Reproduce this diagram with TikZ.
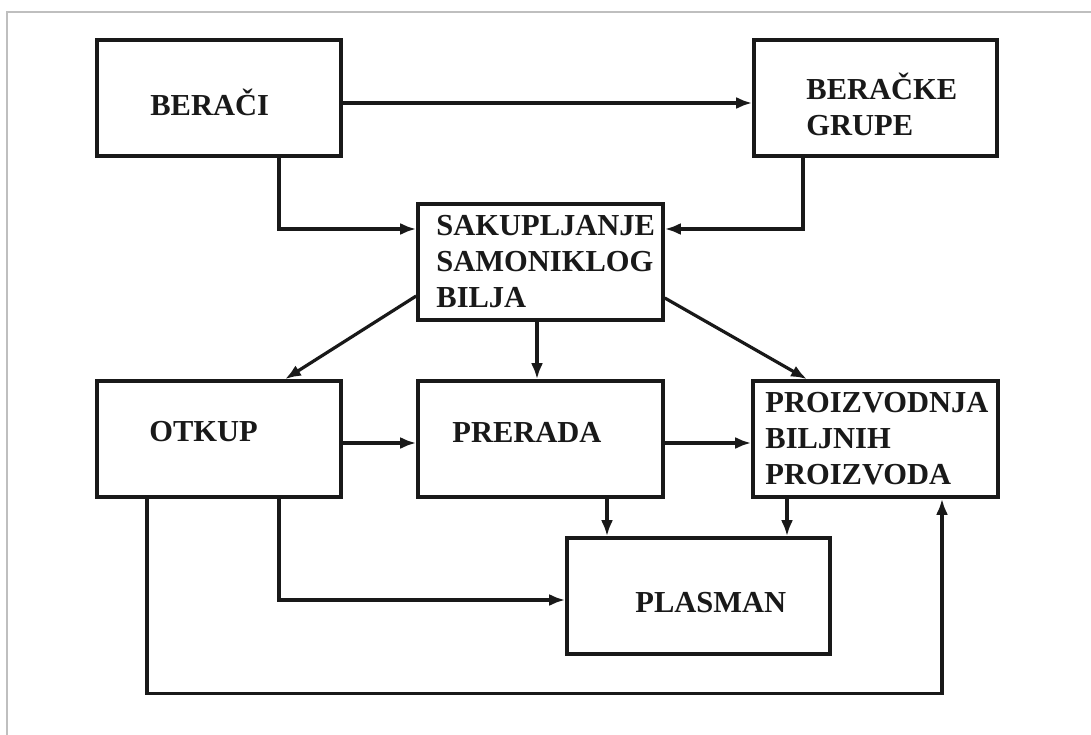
\documentclass[tikz,border=0pt]{standalone}
\usepackage{fontspec}
\setmainfont{Liberation Serif}
\usetikzlibrary{arrows.meta,calc}
\begin{document}
\begin{tikzpicture}[x=1pt,y=-1pt,
  box/.style={draw=black!90,line width=3.6pt,rectangle,inner sep=0pt,minimum height=116pt},
  txt/.style={font=\fontsize{30.5}{36}\selectfont\bfseries,align=left,inner sep=0pt,anchor=west,text=black!90},
  conn/.style={draw=black!90,line width=3.2pt,-{Latex[length=16pt,width=12pt]}},
  link/.style={draw=black!90,line width=3.2pt}]
% page area and frame
\useasboundingbox (0,0) rectangle (1091,735);
\fill[white] (0,0) rectangle (1091,735);
\draw[black!25,line width=1.5pt] (1091,12) -- (7,12) -- (7,735);

% boxes
\node[box,minimum width=244pt] (beraci)  at (219,98)    {};
\node[box,minimum width=243pt] (grupe)   at (875.5,98)  {};
\node[box,minimum width=245pt] (sakup)   at (540.5,262) {};
\node[box,minimum width=244pt] (otkup)   at (219,439)   {};
\node[box,minimum width=245pt] (prerada) at (540.5,439) {};
\node[box,minimum width=245pt] (proizv)  at (875.5,439) {};
\node[box,minimum width=263pt] (plasman) at (698.5,596) {};

% labels
\node[txt] (beraci-t)  at ($(beraci.west)+(55,4)$)   {BERAČI};
\node[txt] (grupe-t)   at ($(grupe.west)+(54,6)$)    {BERAČKE\\GRUPE};
\node[txt] (sakup-t)   at ($(sakup.west)+(20,0)$)    {SAKUPLJANJE\\SAMONIKLOG\\BILJA};
\node[txt] (otkup-t)   at ($(otkup.west)+(54,-7)$)   {OTKUP};
\node[txt] (prerada-t) at ($(prerada.west)+(36,-7)$) {PRERADA};
\node[txt] (proizv-t)  at ($(proizv.west)+(14,0)$)   {PROIZVODNJA\\BILJNIH\\PROIZVODA};
\node[txt] (plasman-t) at ($(plasman.west)+(70,7)$)  {PLASMAN};

% connectors
\draw[conn] (beraci.east |- 0,103) -- (grupe.west |- 0,103);
\draw[conn] (beraci.south -| 279,0) |- (sakup.west |- 0,229);
\draw[conn] (grupe.south -| 803,0) |- (sakup.east |- 0,229);
\draw[conn] (sakup.south -| 537,0) -- (prerada.north -| 537,0);
\draw[conn] (sakup.west |- 0,296) -- (otkup.north -| 285,0);
\draw[conn] (sakup.east |- 0,298) -- (proizv.north -| 807,0);
\draw[conn] (otkup.east |- 0,443) -- (prerada.west |- 0,443);
\draw[conn] (prerada.east |- 0,443) -- (proizv.west |- 0,443);
\draw[conn] (prerada.south -| 607,0) -- (plasman.north -| 607,0);
\draw[conn] (proizv.south -| 787,0) -- (plasman.north -| 787,0);
\draw[conn] (otkup.south -| 279,0) |- (plasman.west |- 0,600);
\draw[conn] (otkup.south -| 147,0) -- ++(0,195) -| (proizv.south -| 942,0);
\end{tikzpicture}
\end{document}
